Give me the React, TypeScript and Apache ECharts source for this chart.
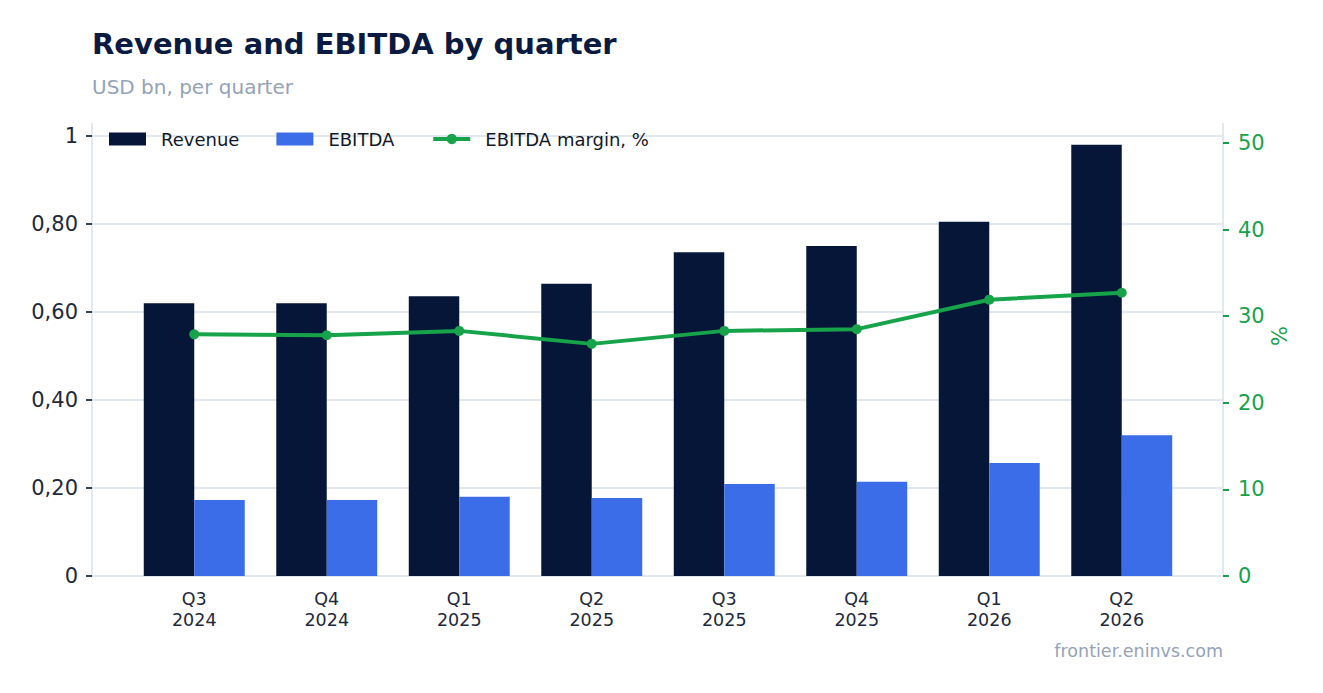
import { useEffect, useRef } from 'react'
import * as echarts from 'echarts'

const quarters = ['Q3\n2024', 'Q4\n2024', 'Q1\n2025', 'Q2\n2025', 'Q3\n2025', 'Q4\n2025', 'Q1\n2026', 'Q2\n2026']
const revenue = [0.62, 0.62, 0.636, 0.664, 0.736, 0.75, 0.805, 0.98]
const ebitda = [0.173, 0.173, 0.18, 0.177, 0.209, 0.214, 0.257, 0.32]
const margin = [27.9, 27.8, 28.3, 26.8, 28.3, 28.5, 31.9, 32.7]

const FONT = 'DejaVu Sans'
const GREEN = '#16a34a'
const GRID_LINE = '#e2e8f0'
const TEXT = '#1e293b'

export default function App() {
  const chartRef = useRef<HTMLDivElement>(null)

  useEffect(() => {
    document.body.style.margin = '0'
    if (!chartRef.current) return
    const chart = echarts.init(chartRef.current, null, { renderer: 'svg' })

    const option: any = {
      animation: false,
      textStyle: { fontFamily: FONT },
      title: [
        {
          text: 'Revenue and EBITDA by quarter',
          left: 92,
          top: 29,
          padding: 0,
          textStyle: { fontFamily: FONT, fontSize: 29, fontWeight: 'bold', color: '#0b1a40' }
        },
        {
          text: 'USD bn, per quarter',
          left: 92,
          top: 77,
          padding: 0,
          textStyle: { fontFamily: FONT, fontSize: 20, fontWeight: 'normal', color: '#94a3b8' }
        },
        {
          text: 'frontier.eninvs.com',
          right: 100,
          top: 642,
          padding: 0,
          textStyle: { fontFamily: FONT, fontSize: 17.5, fontWeight: 'normal', color: '#94a3b8' }
        }
      ],
      legend: {
        left: 104,
        top: 125,
        itemWidth: 37,
        itemHeight: 13,
        itemGap: 37,
        textStyle: { fontFamily: FONT, fontSize: 18, color: '#111827', padding: [0, 0, 0, 10] },
        data: [
          { name: 'Revenue', icon: 'rect' },
          { name: 'EBITDA', icon: 'rect' },
          { name: 'EBITDA margin, %', lineStyle: { width: 4 } }
        ]
      },
      grid: [
        // frame: axis lines and split lines over the full plot width
        { left: 92, right: 100, top: 136, bottom: 117 },
        // data: categories inset from the frame
        { left: 128, right: 135, top: 136, bottom: 117 },
        // right axis labels, 0..50
        { left: 92, right: 100, top: 143, bottom: 117 }
      ],
      xAxis: [
        {
          gridIndex: 0,
          type: 'value',
          min: 0,
          max: 1,
          axisLine: { show: true, onZero: false, lineStyle: { color: GRID_LINE, width: 2 } },
          axisTick: { show: false },
          axisLabel: { show: false },
          splitLine: { show: false }
        },
        {
          gridIndex: 1,
          type: 'category',
          data: quarters,
          axisLine: { show: false },
          axisTick: { alignWithLabel: true, length: 6, lineStyle: { color: '#334155', width: 2 } },
          axisLabel: { fontFamily: FONT, fontSize: 17.5, color: TEXT, margin: 12, lineHeight: 21 }
        },
        { gridIndex: 2, type: 'value', min: 0, max: 1, show: false }
      ],
      yAxis: [
        {
          gridIndex: 0,
          type: 'value',
          position: 'left',
          min: 0,
          max: 1,
          interval: 0.2,
          axisLine: { show: true, onZero: false, lineStyle: { color: GRID_LINE, width: 2 } },
          axisTick: { show: true, length: 6, lineStyle: { color: '#334155', width: 2 } },
          axisLabel: {
            fontFamily: FONT,
            fontSize: 21,
            color: TEXT,
            margin: 14,
            formatter: (v: number) => (v === 0 ? '0' : v === 1 ? '1' : v.toFixed(2).replace('.', ','))
          },
          splitLine: { lineStyle: { color: GRID_LINE, width: 2 } }
        },
        {
          gridIndex: 0,
          type: 'value',
          position: 'right',
          min: 0,
          max: 1,
          axisLine: { show: true, onZero: false, lineStyle: { color: GRID_LINE, width: 2 } },
          axisTick: { show: false },
          axisLabel: { show: false },
          splitLine: { show: false }
        },
        { gridIndex: 1, type: 'value', min: 0, max: 1, show: false },
        { gridIndex: 1, type: 'value', min: 0, max: 50.8, show: false },
        {
          gridIndex: 2,
          type: 'value',
          position: 'right',
          min: 0,
          max: 50,
          interval: 10,
          axisLine: { show: false, onZero: false },
          axisTick: { show: true, length: 6, lineStyle: { color: GREEN, width: 2 } },
          axisLabel: { fontFamily: FONT, fontSize: 21, color: GREEN, margin: 15 },
          splitLine: { show: false }
        }
      ],
      graphic: [
        { type: 'line', shape: { x1: 92, y1: 123, x2: 92, y2: 136 }, style: { stroke: GRID_LINE, lineWidth: 2 } },
        { type: 'line', shape: { x1: 1223, y1: 123, x2: 1223, y2: 136 }, style: { stroke: GRID_LINE, lineWidth: 2 } },
        {
          type: 'text',
          x: 1280,
          y: 336,
          rotation: Math.PI / 2,
          style: {
            text: '%',
            fontFamily: FONT,
            fontSize: 21,
            fill: GREEN,
            align: 'center',
            verticalAlign: 'middle'
          }
        }
      ],
      series: [
        {
          name: 'Revenue',
          type: 'bar',
          xAxisIndex: 1,
          yAxisIndex: 2,
          data: revenue,
          barGap: '0%',
          barCategoryGap: '23.8%',
          itemStyle: { color: '#061639' }
        },
        {
          name: 'EBITDA',
          type: 'bar',
          xAxisIndex: 1,
          yAxisIndex: 2,
          data: ebitda,
          itemStyle: { color: '#3b6de8' }
        },
        {
          name: 'EBITDA margin, %',
          type: 'line',
          xAxisIndex: 1,
          yAxisIndex: 3,
          data: margin,
          symbol: 'circle',
          symbolSize: 10,
          lineStyle: { color: GREEN, width: 4 },
          itemStyle: { color: GREEN }
        }
      ]
    }

    chart.setOption(option)
    return () => {
      chart.dispose()
    }
  }, [])

  return <div ref={chartRef} style={{ width: 1323, height: 693 }} />
}
